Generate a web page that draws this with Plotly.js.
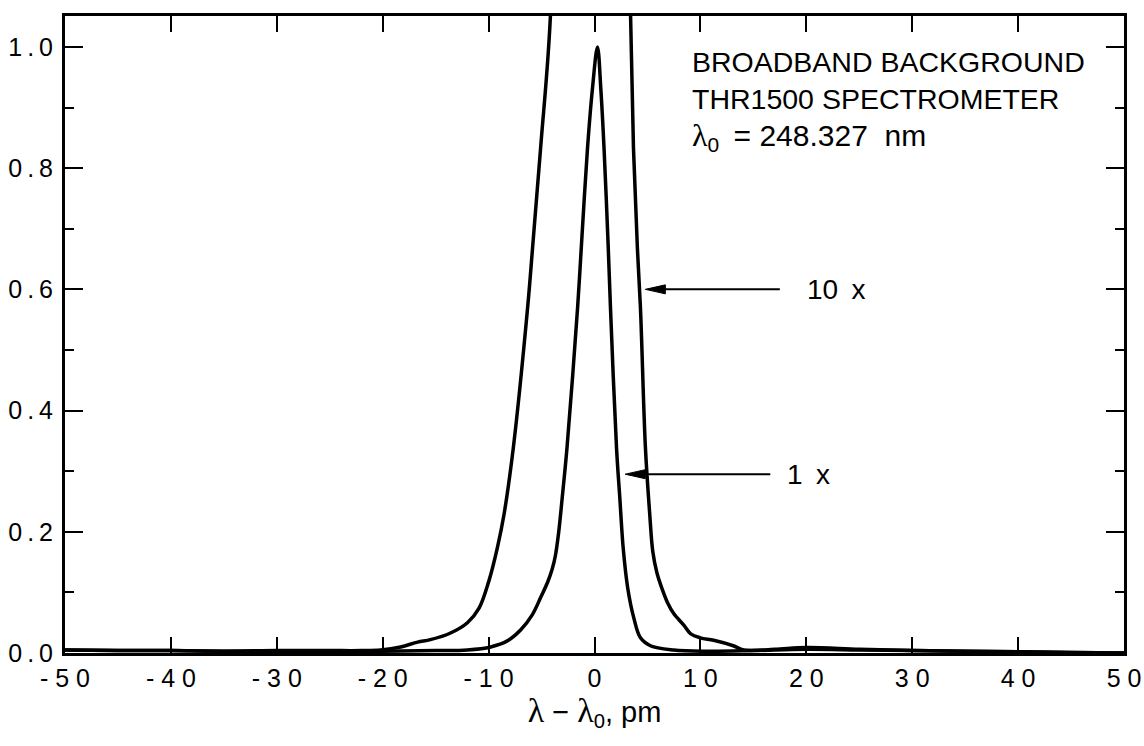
<!DOCTYPE html>
<html>
<head>
<meta charset="utf-8">
<script src="https://cdn.plot.ly/plotly-3.0.1.min.js"></script>
<style>html,body{margin:0;padding:0;background:#fff;}</style>
</head>
<body>
<div id="chart" style="width:1144px;height:746px;"></div>
<script>
// 1x curve: wavelength offset (pm) and normalized intensity
const x1 = [-50,-45,-40,-35,-30,-25,-20,-15,-12.0,-9.8,-8.23,-6.98,-5.88,-5.1,-4.4,-4.0,-3.7,-3.37,-3.05,-2.6,-1.6,-1.25,-0.66,-0.2,0.28,0.6,0.9,1.3,1.51,2.08,2.39,2.71,3.14,3.71,4.34,5.28,7.48,10.6,15,20,25,30,35,40,45,50];
const y1 = [0.005,0.004,0.004,0.003,0.003,0.003,0.003,0.004,0.005,0.010,0.020,0.038,0.063,0.091,0.118,0.138,0.160,0.201,0.256,0.338,0.569,0.668,0.833,0.93,1.0,0.93,0.833,0.668,0.569,0.338,0.256,0.173,0.107,0.058,0.025,0.012,0.005,0.003,0.004,0.006,0.005,0.004,0.003,0.002,0.001,0.0];

// 10x curve (same spectrum magnified ten times; peak is off scale)
const x10 = [-50,-45,-40,-35,-30,-25,-22,-20.2,-18.3,-16.7,-15.5,-13.6,-12.0,-10.9,-9.97,-9.18,-8.55,-7.67,-6.32,-5.85,-5.09,-4.15,-3.68,-2.6,0.28,2.08,3.0,3.4,3.68,4.05,4.34,4.81,5.22,5.5,5.9,6.4,6.9,7.48,8.43,9.06,10.0,11.25,13.1,14.1,17,20,25,30,35,40,45,50];
const y10 = [0.005,0.004,0.004,0.003,0.004,0.004,0.004,0.005,0.010,0.018,0.022,0.033,0.05,0.074,0.119,0.173,0.228,0.338,0.569,0.668,0.833,1.056,1.57,3.38,10.0,3.38,1.4,1.056,0.833,0.668,0.569,0.338,0.228,0.168,0.132,0.105,0.083,0.065,0.046,0.032,0.025,0.021,0.012,0.005,0.006,0.009,0.006,0.004,0.003,0.002,0.001,0.0];

// Axis ticks
const xTickVals = [-50,-40,-30,-20,-10,0,10,20,30,40,50];
const xTickText = ['- 5 0','- 4 0','- 3 0','- 2 0','- 1 0','0','1 0','2 0','3 0','4 0','5 0'];
const yTickVals = [0,0.2,0.4,0.6,0.8,1.0];
const yTickText = ['0\u2009.\u20090','0\u2009.\u20092','0\u2009.\u20094','0\u2009.\u20096','0\u2009.\u20098','1\u2009.\u20090'];

// Arrow callouts
const arrowLabels = ['10\u00a0\u2009x','1\u00a0\u2009x'];
const arrowTipX = [4.8, 2.9];
const arrowTailX = [17.5, 16.6];
const arrowY = [0.6, 0.295];
const labelX = [19.9, 18.0];

const lineStyle = {color:'#000', width:3.5, shape:'spline', smoothing:1};

const traces = [
  {x:x10, y:y10, mode:'lines', line:lineStyle, name:'10 x', hoverinfo:'skip'},
  {x:x1, y:y1, mode:'lines', line:lineStyle, name:'1 x', hoverinfo:'skip'}
];

const shapes = [];
const annotations = [];
for (let i = 0; i < arrowLabels.length; i++) {
  shapes.push({type:'line', xref:'x', yref:'y', x0:arrowTipX[i]+1.5, x1:arrowTailX[i], y0:arrowY[i], y1:arrowY[i], line:{color:'#000', width:2}});
  shapes.push({type:'path', xref:'x', yref:'y', xsizemode:'pixel', ysizemode:'pixel', xanchor:arrowTipX[i], yanchor:arrowY[i],
    path:'M0,0L20,4.5L20,-4.5Z', fillcolor:'#000', line:{color:'#000', width:1}});
  annotations.push({xref:'x', yref:'y', x:labelX[i], y:arrowY[i], xanchor:'left', yanchor:'middle', showarrow:false,
    text:arrowLabels[i], font:{family:'Liberation Sans, Arial, sans-serif', size:28, color:'#000'}});
}
annotations.push({xref:'x', yref:'y', x:9.0, y:1.005, xanchor:'left', yanchor:'top', align:'left', showarrow:false,
  text:'BROADBAND BACKGROUND<br>THR1500 SPECTROMETER<br><span style="font-size:30px"><span style="font-family:Liberation Serif;font-size:32px">λ</span><sub>0</sub>\u2009 = 248.327\u00a0 nm</span>',
  font:{family:'Liberation Sans, Arial, sans-serif', size:28.5, color:'#000'}});

const layout = {
  width:1144, height:746,
  margin:{l:65, r:20, t:16, b:93},
  paper_bgcolor:'#fff', plot_bgcolor:'#fff',
  showlegend:false,
  font:{family:'Liberation Sans, Arial, sans-serif', color:'#000'},
  xaxis:{
    range:[-50,50], tickmode:'array', tickvals:xTickVals, ticktext:xTickText,
    ticks:'inside', ticklen:16, tickwidth:2, tickcolor:'#000',
    showline:true, linewidth:3, linecolor:'#000', mirror:'ticks',
    showgrid:false, zeroline:false, tickfont:{size:25, color:'#000'}, ticklabelstandoff:1,
    title:{text:'<span style="font-family:Liberation Serif;font-size:34px">λ</span> \u2212 <span style="font-family:Liberation Serif;font-size:34px">λ</span><sub>0</sub>, pm', font:{size:29, color:'#000'}, standoff:5}
  },
  yaxis:{
    range:[0,1.051], tickmode:'array', tickvals:yTickVals, ticktext:yTickText,
    ticks:'inside', ticklen:18, tickwidth:2, tickcolor:'#000',
    minor:{tickmode:'linear', tick0:0, dtick:0.1, ticks:'inside', ticklen:9, tickwidth:2, tickcolor:'#000'},
    showline:true, linewidth:3, linecolor:'#000', mirror:'ticks',
    showgrid:false, zeroline:false, tickfont:{size:25, color:'#000'}, ticklabelstandoff:4
  },
  shapes:shapes,
  annotations:annotations
};

Plotly.newPlot('chart', traces, layout, {displayModeBar:false, staticPlot:true});
</script>
</body>
</html>
